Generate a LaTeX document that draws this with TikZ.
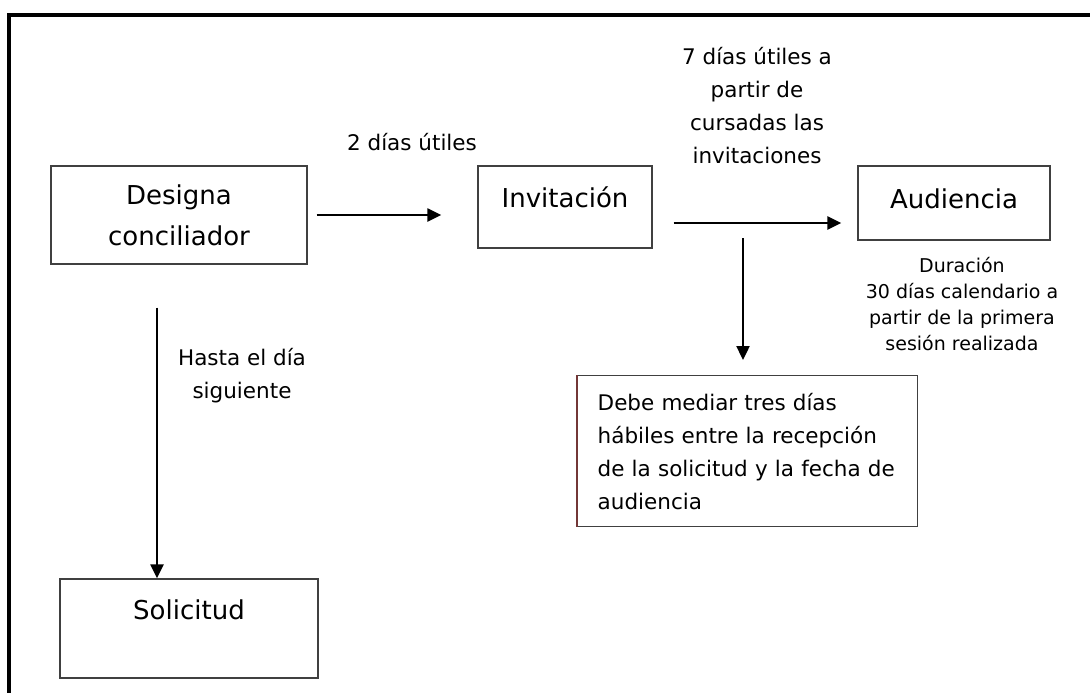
\documentclass[tikz,border=0pt]{standalone}
\usepackage{fontspec}
\setmainfont{DejaVu Sans}
\usepackage{tikz}
\usetikzlibrary{arrows.meta,positioning}
\tikzset{font={\fontsize{21.5pt}{33pt}\selectfont}}

\begin{document}
\begin{tikzpicture}[x=1pt,y=-1pt,
caja/.style={draw=black!75,line width=1.4pt,inner sep=0pt,align=center,font={\fontsize{26pt}{41pt}\selectfont}},
flecha/.style={line width=2.4pt,-{Triangle[length=14pt,width=13pt]}},
nota/.style={align=center}
]
\useasboundingbox (0,0) rectangle (1090,693);
\draw[line width=3.8pt] (1090,14.7) -- (9.2,14.7) -- (9.2,693);

\node[caja,minimum width=256,minimum height=98] (desig) at (179,215) {Designa\\conciliador};
\node[caja,minimum width=174,minimum height=82,text depth=20pt] (invit) at (565,207) {Invitación};
\node[caja,minimum width=192,minimum height=74,text depth=8pt] (audi) at (954,203) {Audiencia};
\node[caja,minimum width=258,minimum height=99,text depth=38pt] (solic) at (189,628.5) {Solicitud};

\node[draw=black!75,line width=1.4pt,anchor=north west,minimum width=340,minimum height=151,
text width=300,align=left,inner xsep=20,inner ysep=0] (debe) at (577,375)
{Debe mediar tres días\\hábiles entre la recepción\\de la solicitud y la fecha de\\audiencia};
\draw[line width=1.4pt,draw={rgb,255:red,115;green,55;blue,55}] (debe.north west) -- (debe.south west);

\node[nota] (dos) at (412,142) {2 días útiles};
\node[nota] (siete) at (757,106) {7 días útiles a\\partir de\\cursadas las\\invitaciones};
\node[nota,font={\fontsize{19pt}{26pt}\selectfont}] (durac) at (962,304)
{Duración\\30 días calendario a\\partir de la primera\\sesión realizada};
\node[nota] (hasta) at (242,376) {Hasta el día\\siguiente};

%flechas
\draw[flecha] ([xshift=9]desig.east) -- ([xshift=-36]invit.west |- desig.east);
\draw[flecha] ([xshift=21,yshift=-16]invit.east) -- ([xshift=-16,yshift=-20]audi.west);
\coordinate (bajada) at (743,238);
\draw[flecha,shorten >=15pt] (bajada) -- (bajada |- debe.north);
\draw[flecha] ([xshift=-22,yshift=-43]desig.south) -- ([xshift=-22]desig.south |- solic.north);

\end{tikzpicture}
\end{document}
